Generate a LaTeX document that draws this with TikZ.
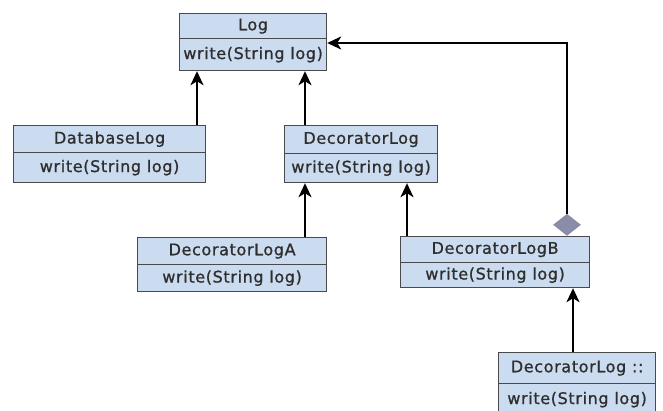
\documentclass[tikz,border=0pt]{standalone}
\usepackage{fontspec}
\setmainfont{DejaVu Sans}[LetterSpace=4, FakeBold=1]
\usetikzlibrary{arrows.meta,shapes.geometric}
\definecolor{boxfill}{HTML}{CCDCF0}
\definecolor{boxline}{HTML}{4A4A4A}
\definecolor{txt}{HTML}{2E2E2E}
\definecolor{diam}{HTML}{8A8CA8}
\begin{document}
\begin{tikzpicture}[x=1pt,y=-1pt,
  part/.style={draw=boxline, fill=boxfill, line width=1.2pt, rectangle,
    anchor=north west, inner sep=0pt, text=txt,
    font=\fontsize{16}{19}\selectfont},
  gen/.style={-{Stealth[length=14pt,width=13pt,inset=4pt]}, line width=2.2pt},
]
\useasboundingbox (0,0) rectangle (663,410);

% Log
\node[part, minimum width=147pt, minimum height=25pt] (log) at (179,13) {Log};
\node[part, minimum width=147pt, minimum height=32pt] (logM) at (179,38) {write(String log)};

% DatabaseLog
\node[part, minimum width=192pt, minimum height=27pt] (db) at (13,125) {DatabaseLog};
\node[part, minimum width=192pt, minimum height=30pt] (dbM) at (13,152) {write(String log)};

% DecoratorLog
\node[part, minimum width=153pt, minimum height=28pt] (dec) at (284,125) {DecoratorLog};
\node[part, minimum width=153pt, minimum height=29pt] (decM) at (284,153) {write(String log)};

% DecoratorLogA
\node[part, minimum width=189pt, minimum height=27pt] (decA) at (137,237) {DecoratorLogA};
\node[part, minimum width=189pt, minimum height=27pt] (decAM) at (137,264) {write(String log)};

% DecoratorLogB
\node[part, minimum width=189pt, minimum height=26pt] (decB) at (400,236) {DecoratorLogB};
\node[part, minimum width=189pt, minimum height=25pt] (decBM) at (400,262) {write(String log)};

% DecoratorLog ::
\node[part, minimum width=157pt, minimum height=31pt] (inner) at (498,352) {DecoratorLog ::};
\node[part, minimum width=157pt, minimum height=32pt] (innerM) at (498,383) {write(String log)};

% aggregation diamond on DecoratorLogB
\node[diamond, fill=diam, inner sep=0pt, minimum width=28pt, minimum height=22pt,
  anchor=south] (dia) at (567,236) {};

% connector columns
\coordinate (c1) at (197,0);
\coordinate (c2) at (305,0);
\coordinate (c3) at (407,0);
\coordinate (c4) at (573,0);
\coordinate (aggY) at (0,43);

\draw[gen] (c1 |- db.north) -- (c1 |- logM.south);
\draw[gen] (c2 |- dec.north) -- (c2 |- logM.south);
\draw[gen] (c2 |- decA.north) -- (c2 |- decM.south);
\draw[gen] (c3 |- decB.north) -- (c3 |- decM.south);
\draw[gen] (c4 |- inner.north) -- (c4 |- decBM.south);
\draw[gen] (dia.north) |- (logM.east |- aggY);
\end{tikzpicture}
\end{document}
